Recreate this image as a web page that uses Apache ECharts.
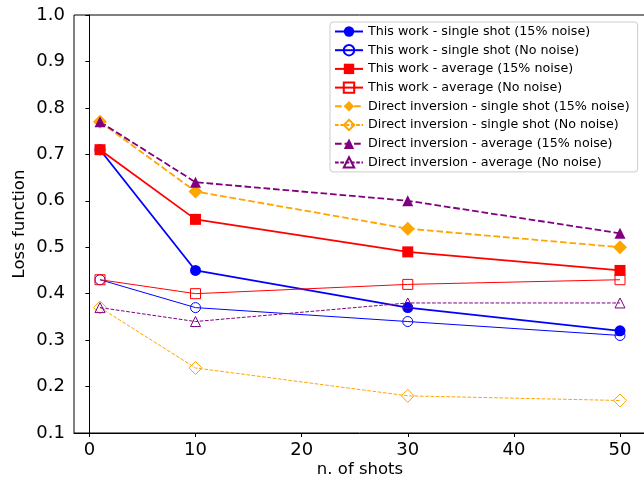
<!DOCTYPE html>
<html>
<head>
<meta charset="utf-8">
<script src="https://cdn.jsdelivr.net/npm/echarts@6/dist/echarts.min.js"></script>
<style>
  html, body { margin: 0; padding: 0; background: #fff; }
  #chart { width: 644px; height: 483px; }
</style>
</head>
<body>
<div id="chart"></div>
<script>
// number of shots
var shots = [1, 10, 30, 50];
var xTicks = [0, 10, 20, 30, 40, 50];

// loss values
var oursSingleNoisy = [0.71, 0.45, 0.37, 0.32];
var oursSingleClean = [0.43, 0.37, 0.34, 0.31];
var oursAvgNoisy = [0.71, 0.56, 0.49, 0.45];
var oursAvgClean = [0.43, 0.40, 0.42, 0.43];
var directSingleNoisy = [0.77, 0.62, 0.54, 0.50];
var directSingleClean = [0.37, 0.24, 0.18, 0.17];
var directAvgNoisy = [0.77, 0.64, 0.60, 0.53];
var directAvgClean = [0.37, 0.34, 0.38, 0.38];

var FONT = "DejaVu Sans";

// marker sizes, filled / hollow
var sizes = {
  circle: [11, 10],
  rect: [11, 10],
  diamond: [14, 13],
  triangle: [11, 10]
};

function pairs(ys) {
  return shots.map(function (x, i) { return [x, ys[i]]; });
}

// filled marker + thick line, or hollow marker + thin line
function makeSeries(name, ys, color, symbol, filled, dashed) {
  var w = filled ? 1.8 : 1;
  return {
    name: name,
    type: "line",
    data: pairs(ys),
    symbol: symbol,
    symbolSize: sizes[symbol][filled ? 0 : 1],
    showAllSymbol: true,
    lineStyle: {
      color: color,
      width: w,
      type: dashed ? [3.7 * w, 1.6 * w] : "solid"
    },
    itemStyle: {
      color: filled ? color : "rgba(255,255,255,0)",
      borderColor: color,
      borderWidth: filled ? 0 : 1
    },
    emphasis: { disabled: true },
    animation: false
  };
}

var myChart = echarts.init(document.getElementById("chart"), null, { renderer: "canvas" });

var option = {
  animation: false,
  textStyle: { fontFamily: FONT },
  grid: {
    left: 74,
    top: 15,
    right: -2,
    bottom: 50,
    outerBoundsMode: "none",
    containLabel: false,
    show: true,
    borderColor: "#000",
    borderWidth: 1,
    backgroundColor: "transparent"
  },
  legend: {
    orient: "vertical",
    left: 330,
    top: 22,
    padding: [3, 8, 3, 4],
    itemWidth: 28,
    itemHeight: 13,
    itemGap: 5.7,
    itemTextGap: 11,
    backgroundColor: "rgba(255,255,255,0.85)",
    borderColor: "#cccccc",
    borderWidth: 1,
    borderRadius: 3,
    textStyle: { fontFamily: FONT, fontSize: 12.7, color: "#000", lineHeight: 13 }
  },
  xAxis: {
    type: "value",
    min: -1.45,
    max: 52.45,
    name: "n. of shots",
    nameLocation: "middle",
    nameGap: 28,
    nameMoveOverlap: false,
    nameTextStyle: { fontFamily: FONT, fontSize: 16.5, color: "#000" },
    axisLine: { show: true, lineStyle: { color: "#000", width: 1 } },
    axisTick: { show: true, length: 4, customValues: xTicks, lineStyle: { color: "#000" } },
    axisLabel: { customValues: xTicks, fontFamily: FONT, fontSize: 18, color: "#000", margin: 8 },
    splitLine: { show: false }
  },
  yAxis: {
    type: "value",
    min: 0.1,
    max: 1.0,
    interval: 0.1,
    name: "Loss function",
    nameLocation: "middle",
    nameGap: 46,
    nameMoveOverlap: false,
    nameTextStyle: { fontFamily: FONT, fontSize: 16.5, color: "#000" },
    axisLine: { show: true, lineStyle: { color: "#000", width: 1 } },
    axisTick: { show: true, length: 4, lineStyle: { color: "#000" } },
    axisLabel: {
      fontFamily: FONT, fontSize: 18, color: "#000", margin: 9,
      formatter: function (v) { return v.toFixed(1); }
    },
    splitLine: { show: false }
  },
  series: [
    makeSeries("This work - single shot (15% noise)", oursSingleNoisy, "#0000ff", "circle", true, false),
    makeSeries("This work - single shot (No noise)", oursSingleClean, "#0000ff", "circle", false, false),
    makeSeries("This work - average (15% noise)", oursAvgNoisy, "#ff0000", "rect", true, false),
    makeSeries("This work - average (No noise)", oursAvgClean, "#ff0000", "rect", false, false),
    makeSeries("Direct inversion - single shot (15% noise)", directSingleNoisy, "#ffa500", "diamond", true, true),
    makeSeries("Direct inversion - single shot (No noise)", directSingleClean, "#ffa500", "diamond", false, true),
    makeSeries("Direct inversion - average (15% noise)", directAvgNoisy, "#800080", "triangle", true, true),
    makeSeries("Direct inversion - average (No noise)", directAvgClean, "#800080", "triangle", false, true)
  ]
};

myChart.setOption(option);
window.onresize = function () {
  myChart.resize();
};
</script>
</body>
</html>
